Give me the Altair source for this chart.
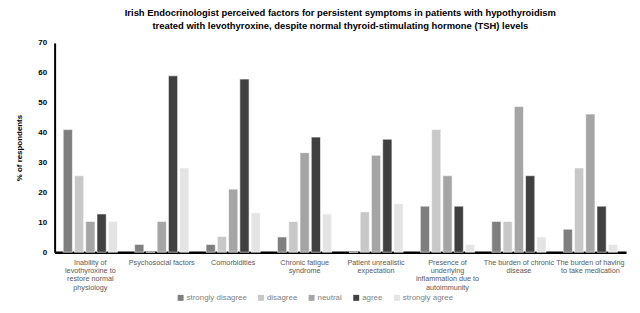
import altair as alt
import pandas as pd

categories = [
    "Inability of|levothyroxine to|restore normal|physiology",
    "Psychosocial factors",
    "Comorbidities",
    "Chronic fatigue|syndrome",
    "Patient unrealistic|expectation",
    "Presence of|underlying|inflammation due to|autoimmunity",
    "The burden of chronic|disease",
    "The burden of having|to take medication",
]
series = ["strongly disagree", "disagree", "neutral", "agree", "strongly agree"]
strongly_disagree = [41.0, 2.6, 2.6, 5.1, 0.0, 15.4, 10.3, 7.7]
disagree = [25.6, 0.0, 5.3, 10.3, 13.5, 41.0, 10.3, 28.2]
neutral = [10.3, 10.3, 21.1, 33.3, 32.4, 25.6, 48.7, 46.2]
agree = [12.8, 59.0, 57.9, 38.5, 37.8, 15.4, 25.6, 15.4]
strongly_agree = [10.3, 28.2, 13.2, 12.8, 16.2, 2.6, 5.1, 2.6]
colors = ["#7f7f7f", "#c8c8c8", "#a5a5a5", "#404040", "#e4e4e4"]

values = [strongly_disagree, disagree, neutral, agree, strongly_agree]
rows = []
for s, vals in zip(series, values):
    for c, v in zip(categories, vals):
        rows.append({"factor": c, "response": s, "pct": v})
df = pd.DataFrame(rows)

FONT = "Liberation Sans"

chart = alt.Chart(df).mark_bar(stroke="white", strokeWidth=0.6).encode(
    x=alt.X("factor:N", sort=categories, title=None,
            scale=alt.Scale(paddingInner=0.24, paddingOuter=0.12),
            axis=alt.Axis(labelAngle=0, ticks=False, domainColor="black", domainWidth=2.5,
                          labelExpr="split(datum.label, '|')", labelFontSize=7.3,
                          labelColor="#595959", labelPadding=6, labelLimit=200,
                          labelLineHeight=8.4, labelFont=FONT, labelBaseline="top")),
    xOffset=alt.XOffset("response:N", sort=series,
                        scale=alt.Scale(paddingInner=0.18)),
    y=alt.Y("pct:Q", title="% of respondents",
            scale=alt.Scale(domain=[0, 70], nice=False),
            axis=alt.Axis(values=[0, 10, 20, 30, 40, 50, 60, 70], ticks=False, grid=False,
                          domainColor="black", domainWidth=2, labelFontSize=8,
                          labelFontWeight="bold", labelColor="black", labelPadding=8,
                          labelFont=FONT, titleFont=FONT, titleFontSize=8,
                          titleFontWeight="bold", titleColor="black", titlePadding=14)),
    color=alt.Color("response:N", sort=series,
                    scale=alt.Scale(domain=series, range=colors),
                    legend=alt.Legend(title=None, orient="none", direction="horizontal",
                                      legendX=123, legendY=253, symbolType="square",
                                      symbolSize=36, symbolStrokeWidth=0,
                                      labelFontSize=8, labelColor="#7f7f7f",
                                      labelFont=FONT, columnPadding=10, labelOffset=2)),
).properties(
    width=576,
    height=211,
    autosize=alt.AutoSizeParams(type="none"),
    padding={"left": 47, "top": 34, "right": 6, "bottom": 50},
    title=alt.Title(
        ["Irish Endocrinologist perceived factors for persistent symptoms in patients with hypothyroidism",
         "treated with levothyroxine, despite normal thyroid-stimulating hormone (TSH) levels"],
        fontSize=9.5, font=FONT, fontWeight="bold", color="black", anchor="middle",
        offset=9, lineHeight=13),
).configure_view(stroke=None)

chart.save("out.html", embed_options={"renderer": "svg", "actions": False})
